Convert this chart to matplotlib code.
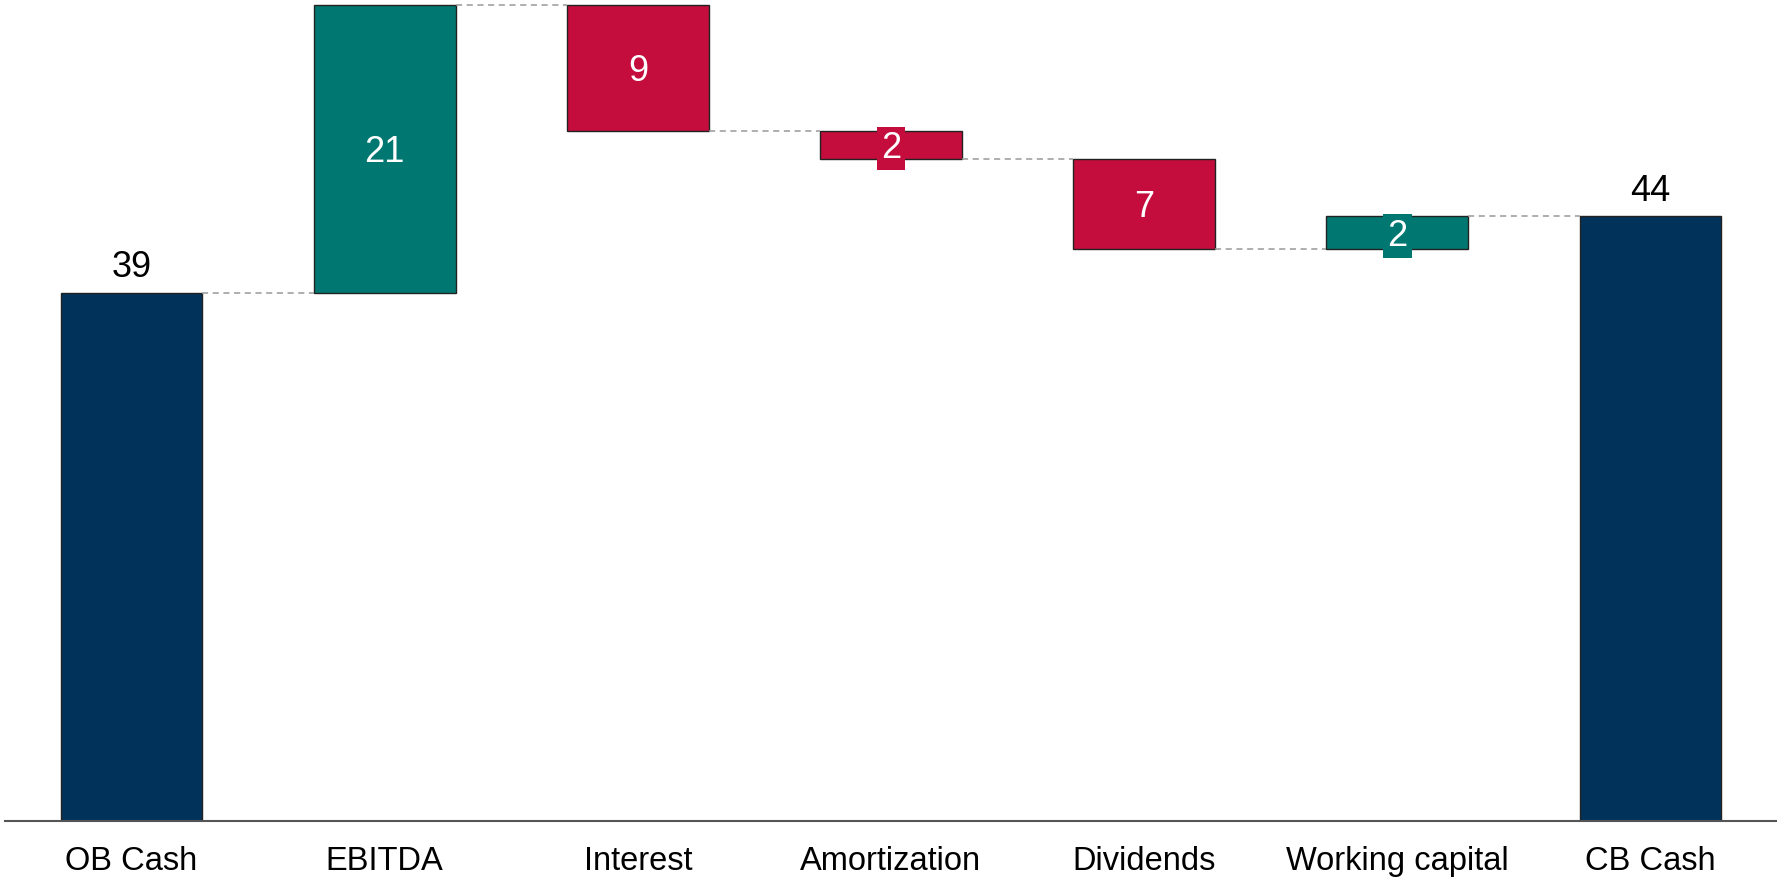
import matplotlib
matplotlib.use("Agg")
import matplotlib.pyplot as plt

plt.rcParams["font.family"] = ["Liberation Sans", "DejaVu Sans"]

# data
categories = ["OB Cash", "EBITDA", "Interest", "Amortization", "Dividends", "Working capital", "CB Cash"]
opening = 38.6
changes = [21.05, -9.2, -2.1, -6.55, 2.4]

navy = "#00325A"
teal = "#007770"
red = "#C40D3C"

closing = opening + sum(changes)

fig = plt.figure(figsize=(17.77, 8.77), dpi=100)
ax = fig.add_axes([5 / 1777, 56 / 877, 1772 / 1777, 821 / 877])

w = 0.56
# opening total
ax.bar(0, opening, width=w, color=navy, edgecolor="#222222", linewidth=1)
ax.annotate(f"{opening:.0f}", (0, opening), xytext=(0, 5.5), textcoords="offset points",
            ha="center", va="bottom", fontsize=26, color="black")

level = opening
for i, d in enumerate(changes, start=1):
    col = teal if d > 0 else red
    ax.bar(i, d, bottom=level, width=w, color=col, edgecolor="#222222", linewidth=1)
    # connector from previous bar
    ax.plot([i - 1 + w / 2, i - w / 2], [level, level], ls=(0, (4, 3)), color="#999999", lw=1.1)
    ax.annotate(f"{abs(d):.0f}", (i, level + d / 2), xytext=(0, -2.5), textcoords="offset points",
                ha="center", va="center", fontsize=26, color="white",
                bbox=dict(boxstyle="square,pad=0.12", fc=col, ec="none"))
    level += d

# closing total
n = len(categories) - 1
ax.plot([n - 1 + w / 2, n - w / 2], [level, level], ls=(0, (4, 3)), color="#999999", lw=1.1)
ax.bar(n, closing, width=w, color=navy, edgecolor="#222222", linewidth=1)
ax.annotate(f"{closing:.0f}", (n, closing), xytext=(0, 5.5), textcoords="offset points",
            ha="center", va="bottom", fontsize=26, color="black")

ax.set_xlim(-0.5, n + 0.5)
ax.set_ylim(0, 60)
ax.set_xticks(range(len(categories)))
ax.set_xticklabels(categories, fontsize=23.5)
ax.tick_params(axis="x", length=0, pad=18)
ax.set_yticks([])
for s in ["top", "right", "left"]:
    ax.spines[s].set_visible(False)
ax.spines["bottom"].set_color("#555555")
ax.spines["bottom"].set_linewidth(1.5)

fig.savefig("out.png", dpi=100)
